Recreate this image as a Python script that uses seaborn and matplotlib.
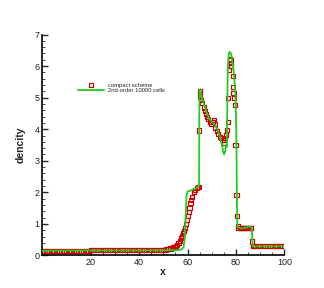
import matplotlib
matplotlib.use('Agg')
import matplotlib.pyplot as plt
import seaborn as sns
import pandas as pd
from matplotlib.ticker import MultipleLocator

# compact scheme (red squares)
compact_x = [0, 1, 2, 3, 4, 5, 6, 7, 8, 9, 10, 11, 12, 13, 14, 15, 16, 17, 18, 19,
             20, 21, 22, 23, 24, 25, 26, 27, 28, 29, 30, 31, 32, 33, 34, 35, 36, 37, 38, 39,
             40, 41, 42, 43, 44, 45, 46, 47, 48, 49, 50, 51, 52, 53, 54, 54.6, 55.2, 55.8,
             56.3, 56.8, 57.3, 57.7, 58.1, 58.5, 58.8, 59.3, 59.8, 60.2, 60.5, 60.8, 61.2,
             61.5, 61.9, 62.5, 63.2, 63.9, 64.4, 64.9,
             64.9, 65.0, 65.1, 65.3, 65.7, 66.1, 66.7, 67.1, 67.5, 68.1, 68.5, 69.1, 69.7,
             70.4, 70.9, 71.2, 71.5, 72.2, 72.6, 73.3, 73.8, 74.5, 74.9, 75.3, 75.9, 76.3,
             76.7, 76.6, 77.0, 77.4, 77.7, 78.0, 78.1, 78.6, 78.7, 79.0, 79.3, 79.6, 79.8,
             80.2, 80.4, 80.7, 81.0, 81.5, 82.0, 82.5, 83.0, 83.5, 84.0, 84.5, 85.0, 85.5,
             86.0, 86.3, 86.6, 87.0, 87.5, 88, 89, 90, 91, 92, 93, 94, 95, 96, 97, 98, 99, 100]
compact_y = [0.15, 0.15, 0.15, 0.15, 0.15, 0.15, 0.15, 0.15, 0.15, 0.15, 0.15, 0.15, 0.15,
             0.15, 0.15, 0.15, 0.15, 0.15, 0.15, 0.15, 0.16, 0.16, 0.16, 0.16, 0.16, 0.16,
             0.16, 0.16, 0.16, 0.16, 0.16, 0.16, 0.16, 0.16, 0.16, 0.16, 0.16, 0.16, 0.16,
             0.16, 0.16, 0.16, 0.16, 0.16, 0.16, 0.17, 0.17, 0.17, 0.17, 0.17, 0.18, 0.19,
             0.2, 0.22, 0.25, 0.27, 0.3, 0.34, 0.39, 0.46, 0.54, 0.62, 0.7, 0.78, 0.86,
             1.0, 1.12, 1.25, 1.39, 1.5, 1.65, 1.75, 1.86, 2.02, 2.08, 2.13, 2.16, 2.18,
             3.96, 5.2, 5.1, 5.03, 4.92, 4.82, 4.69, 4.58, 4.47, 4.39, 4.32, 4.23, 4.16,
             4.23, 4.29, 4.16, 4.04, 3.94, 3.84, 3.76, 3.71, 3.65, 3.58, 3.71, 3.81, 3.97,
             4.23, 5.0, 5.89, 6.21, 6.2, 6.1, 6.0, 5.69, 5.35, 5.14, 4.98, 4.77, 3.5,
             1.92, 1.25, 0.94, 0.88, 0.87, 0.87, 0.87, 0.87, 0.88, 0.88, 0.88, 0.88, 0.88,
             0.88, 0.88, 0.44, 0.3, 0.3, 0.3, 0.3, 0.3, 0.3, 0.3, 0.3, 0.3, 0.3, 0.3, 0.3,
             0.3, 0.3, 0.3]

# 2nd-order 10000 cells (green line)
ref_x = [0, 20, 40, 56, 57.5, 58.3, 58.8, 59.2, 59.6, 59.9, 61, 62, 63, 64, 64.8,
         64.85, 65.0, 65.2, 65.8, 66.8, 68.0, 69.0, 70.0, 71.0, 72.2, 73.2, 74.2, 74.8,
         75.1, 75.5, 75.9, 76.2, 76.6, 77.0, 77.4, 77.8, 78.2, 78.6, 79.0, 79.5, 79.8,
         80.1, 80.2, 80.4, 80.6, 82, 84, 85.2, 86.4, 86.7, 86.9, 88, 100]
ref_y = [0.15, 0.16, 0.16, 0.17, 0.19, 0.25, 0.5, 1.2, 1.9, 2.02, 2.05, 2.08, 2.12, 2.16,
         2.22, 4.5, 5.25, 5.27, 5.03, 4.8, 4.5, 4.33, 4.23, 4.15, 4.02, 3.8, 3.5, 3.27,
         3.2, 3.28, 3.5, 3.44, 5.87, 6.4, 6.45, 6.42, 6.3, 6.1, 5.87, 5.4, 5.03, 4.0, 3.4,
         1.5, 0.9, 0.86, 0.87, 0.92, 0.9, 0.6, 0.3, 0.29, 0.29]

compact = pd.DataFrame({'x': compact_x, 'dencity': compact_y})
ref = pd.DataFrame({'x': ref_x, 'dencity': ref_y})

sns.set_style('white')
plt.rcParams['font.family'] = ['Liberation Sans', 'DejaVu Sans']

fig = plt.figure(figsize=(3.24, 2.88), dpi=100)
ax = fig.add_axes([0.130, 0.113, 0.748, 0.767])

sns.scatterplot(data=compact, x='x', y='dencity', ax=ax, marker='s', s=9,
                color='#d40000', label='compact scheme', zorder=2)
pts = ax.collections[-1]
pts.set_facecolor('none')
pts.set_edgecolor('#d40000')
pts.set_linewidth(0.85)

sns.lineplot(data=ref, x='x', y='dencity', ax=ax, sort=False, estimator=None,
             color='#1fcc1f', linewidth=1.3, label='2nd-order 10000 cells', zorder=3)

ax.set_xlim(0, 100)
ax.set_ylim(0, 7)
ax.set_xticks([20, 40, 60, 80, 100])
ax.set_yticks([0, 1, 2, 3, 4, 5, 6, 7])
ax.xaxis.set_minor_locator(MultipleLocator(5))
ax.yaxis.set_minor_locator(MultipleLocator(0.2))
ax.tick_params(which='major', direction='in', length=4, width=1.0, labelsize=6.5,
               labelcolor='#222222', pad=2)
ax.tick_params(which='minor', direction='in', length=2, width=0.6)
ax.tick_params(axis='both', which='both', bottom=True, left=True, top=False, right=False)

for side in ['top', 'right']:
    ax.spines[side].set_visible(False)
for side in ['left', 'bottom']:
    ax.spines[side].set_color('black')
    ax.spines[side].set_linewidth(1.2)

ax.set_xlabel('x', fontsize=7.5, fontweight='bold', labelpad=0)
ax.set_ylabel('dencity', fontsize=7.5, fontweight='bold', labelpad=6)

ax.legend(loc='upper left', bbox_to_anchor=(0.241, 0.7135), bbox_transform=fig.transFigure,
          frameon=False, fontsize=4.2, handlelength=4.4, handletextpad=0.7,
          labelspacing=0.1, borderpad=0, borderaxespad=0)

fig.savefig('out.png', dpi=100)
